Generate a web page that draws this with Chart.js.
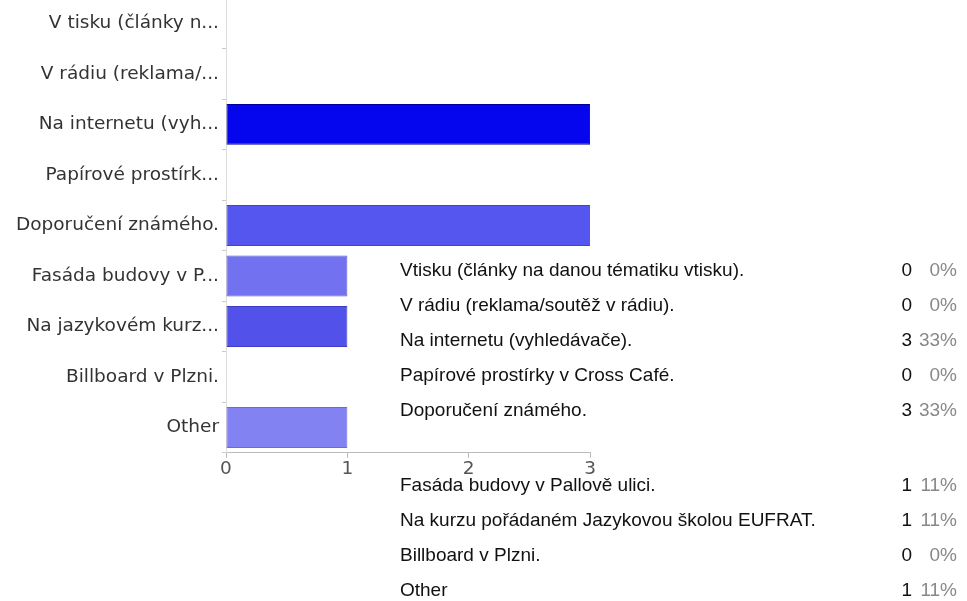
<!DOCTYPE html>
<html>
<head>
<meta charset="utf-8">
<script src="https://cdn.jsdelivr.net/npm/chart.js@4"></script>
<style>
  html, body { margin: 0; padding: 0; background: #fff; }
  body { width: 967px; height: 601px; position: relative; overflow: hidden; font-family: "Liberation Sans", Arial, sans-serif; }
  #wrap { position: absolute; left: 0; top: -16px; width: 596px; height: 496px; }
  #tbl { position: absolute; left: 400px; top: 0; width: 560px; }
  .row { position: absolute; left: 0; width: 557px; height: 22px; line-height: 22px; font-size: 19px; color: #111; white-space: nowrap; }
  .row .lab { position: absolute; left: 0; top: 0; }
  .row .cnt { position: absolute; right: 45px; top: 0; text-align: right; color: #111; }
  .row .pct { position: absolute; right: 0; top: 0; text-align: right; color: #888; }
</style>
</head>
<body>
<div id="wrap"><canvas id="c"></canvas></div>
<div id="tbl"></div>
<script>
// Chart data
const categories = ["V tisku (články n...", "V rádiu (reklama/...", "Na internetu (vyh...", "Papírové prostírk...", "Doporučení známého.", "Fasáda budovy v P...", "Na jazykovém kurz...", "Billboard v Plzni.", "Other"];
const values = [0, 0, 3, 0, 3, 1, 1, 0, 1];
const xTicks = [0, 1, 2, 3];
const barColors = ["#7070f0", "#7070f0", "#0505ee", "#7070f0", "#5555f0", "#7272f0", "#5252ea", "#7070f0", "#8282f2"];
const barBorders = ["#5050c0", "#5050c0", "#00009a", "#5050c0", "#4444c8", "#5a5ad0", "#3c3cc4", "#5050c0", "#6a6ad8"];

// Summary table data
const tableLabels = ["Vtisku (články na danou tématiku vtisku).", "V rádiu (reklama/soutěž v rádiu).", "Na internetu (vyhledávače).", "Papírové prostírky v Cross Café.", "Doporučení známého.", "Fasáda budovy v Pallově ulici.", "Na kurzu pořádaném Jazykovou školou EUFRAT.", "Billboard v Plzni.", "Other"];
const tableCounts = [0, 0, 3, 0, 3, 1, 1, 0, 1];
const tablePercents = ["0%", "0%", "33%", "0%", "33%", "11%", "11%", "0%", "11%"];

const rowTops = [259, 294, 329, 364, 399, 474, 509, 544, 579];
const tbl = document.getElementById('tbl');
tableLabels.forEach((l, i) => {
  const r = document.createElement('div');
  r.className = 'row';
  r.style.top = rowTops[i] + 'px';
  r.innerHTML = '<span class="lab"></span><span class="cnt"></span><span class="pct"></span>';
  r.querySelector('.lab').textContent = l;
  r.querySelector('.cnt').textContent = tableCounts[i];
  r.querySelector('.pct').textContent = tablePercents[i];
  tbl.appendChild(r);
});

const tickFont = { family: "'DejaVu Sans', sans-serif", size: 18.5 };
new Chart(document.getElementById('c'), {
  type: 'bar',
  data: {
    labels: categories,
    datasets: [{
      data: values,
      backgroundColor: barColors,
      borderColor: barBorders,
      borderWidth: 1,
      borderSkipped: false,
      barPercentage: 1,
      categoryPercentage: 0.81
    }]
  },
  options: {
    indexAxis: 'y',
    responsive: true,
    maintainAspectRatio: false,
    animation: false,
    layout: { padding: { left: 0, right: 0, top: 0, bottom: 0 } },
    plugins: { legend: { display: false }, tooltip: { enabled: false } },
    scales: {
      x: {
        min: 0, max: 3,
        afterBuildTicks: (s) => { s.ticks = xTicks.map(v => ({ value: v })); },
        ticks: { color: '#555', font: tickFont, padding: 0 },
        grid: { display: true, drawOnChartArea: false, drawTicks: true, tickLength: 5, color: '#bbb' },
        border: { display: true, color: '#bbb' }
      },
      y: {
        afterFit: (s) => { s.width = 226; },
        ticks: { color: '#333', font: tickFont, padding: 3 },
        grid: { display: true, drawOnChartArea: false, drawTicks: true, tickLength: 4, color: '#ccc' },
        border: { display: true, color: '#ddd' }
      }
    }
  }
});
</script>
</body>
</html>
